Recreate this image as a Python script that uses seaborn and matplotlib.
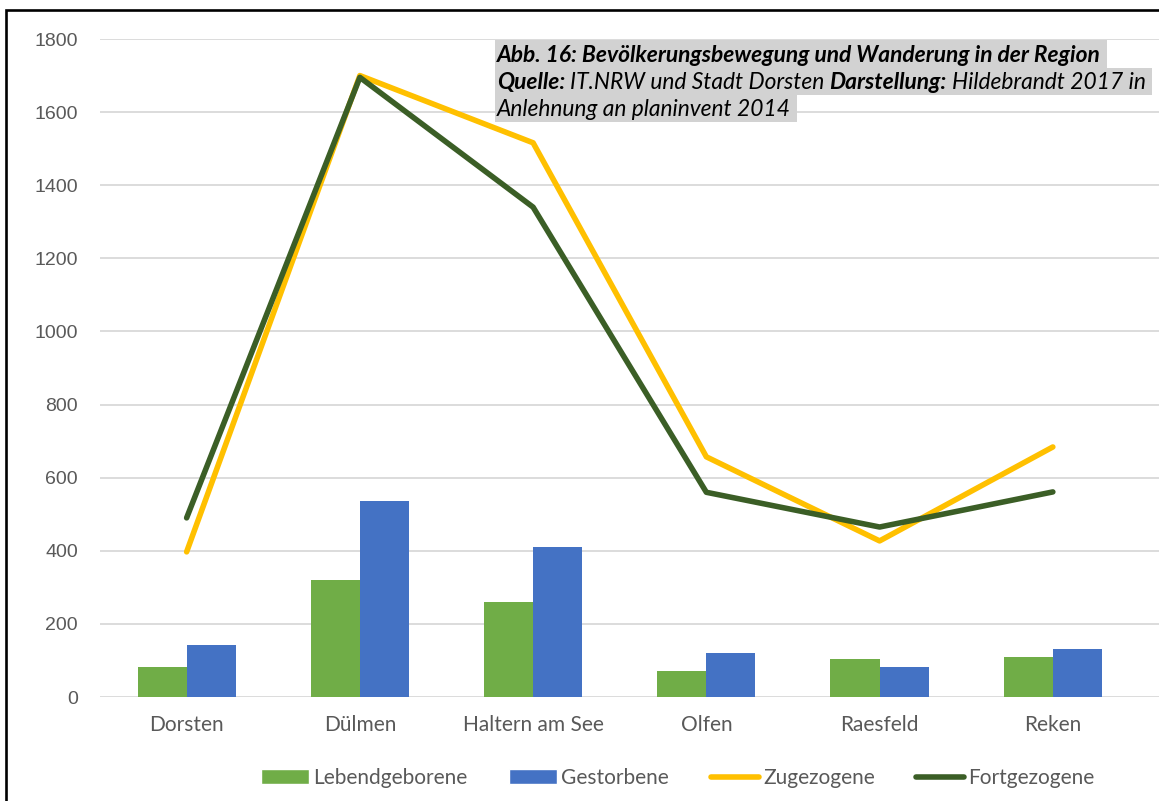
import numpy as np
import pandas as pd
import matplotlib
matplotlib.use("Agg")
import matplotlib.pyplot as plt
from matplotlib.patches import Rectangle, Patch
from matplotlib.lines import Line2D
import seaborn as sns

# --- data ---
orte = ["Dorsten", "Dülmen", "Haltern am See", "Olfen", "Raesfeld", "Reken"]
lebendgeborene = [82, 320, 260, 70, 104, 109]
gestorbene = [143, 535, 410, 120, 82, 132]
zugezogene = [397, 1700, 1516, 657, 427, 684]
fortgezogene = [490, 1695, 1340, 560, 465, 561]
y_ticks = [0, 200, 400, 600, 800, 1000, 1200, 1400, 1600, 1800]

titel_zeilen = [
    [("Abb. 16: Bevölkerungsbewegung und Wanderung in der Region", "bold")],
    [("Quelle:", "bold"), ("IT.NRW und Stadt Dorsten", "normal"),
     ("Darstellung:", "bold"), ("Hildebrandt 2017 in", "normal")],
    [("Anlehnung an planinvent 2014", "normal")],
]

c_green = "#70ad47"
c_blue = "#4472c4"
c_yellow = "#ffc000"
c_dark = "#3b5e26"
c_text = "#595959"

W, H = 1159, 801
sns.set_style("white")
fig = plt.figure(figsize=(W / 100, H / 100), dpi=100)


def fx(px):
    return px / W


def fy(py):
    return 1 - py / H


ax = fig.add_axes([fx(100), fy(697), fx(1159) - fx(100), fy(39) - fy(697)])

bars = pd.DataFrame({
    "Ort": orte * 2,
    "Wert": lebendgeborene + gestorbene,
    "Reihe": ["Lebendgeborene"] * len(orte) + ["Gestorbene"] * len(orte),
})
sns.barplot(data=bars, x="Ort", y="Wert", hue="Reihe", order=orte,
            palette=[c_green, c_blue], width=0.567, gap=0, saturation=1,
            errorbar=None, legend=False, ax=ax, zorder=2, linewidth=0)

pos = np.arange(len(orte))
sns.lineplot(x=pos, y=zugezogene, color=c_yellow, linewidth=4, ax=ax,
             zorder=3, solid_capstyle="round")
sns.lineplot(x=pos, y=fortgezogene, color=c_dark, linewidth=4, ax=ax,
             zorder=4, solid_capstyle="round")

ax.set_xlim(-0.5, (1159 - 188) / 173)
ax.set_ylim(0, 1800)
ax.set_yticks(y_ticks)
ax.set_xticks(pos)
ax.set_xticklabels(orte, fontfamily="Lato", fontsize=15, color=c_text)
ax.set_yticklabels([str(v) for v in y_ticks], fontfamily="Liberation Sans",
                   fontsize=14, color=c_text)
ax.tick_params(axis="both", length=0)
ax.tick_params(axis="y", pad=16)
ax.tick_params(axis="x", pad=13)
ax.set_xlabel("")
ax.set_ylabel("")
for s in ax.spines.values():
    s.set_visible(False)
ax.grid(axis="y", color="#d9d9d9", linewidth=1.3, zorder=0)
ax.set_axisbelow(True)

# legend
handles = [
    Patch(facecolor=c_green, label="Lebendgeborene"),
    Patch(facecolor=c_blue, label="Gestorbene"),
    Line2D([], [], color=c_yellow, linewidth=4, label="Zugezogene"),
    Line2D([], [], color=c_dark, linewidth=4, label="Fortgezogene"),
]
fig.legend(handles=handles, loc="center", bbox_to_anchor=(fx(678), fy(778)),
           ncol=4, frameon=False, prop={"family": "Lato", "size": 15},
           labelcolor=c_text, handlelength=2.3, handletextpad=0.2,
           columnspacing=2.0)

# outer frame of the cropped page
fig.patches.append(Rectangle((fx(6), -0.1), 2, fy(9.5) + 0.1, fill=False,
                             edgecolor="black", linewidth=1.9,
                             transform=fig.transFigure, figure=fig))

# caption with grey highlight, piece by piece
fig.canvas.draw()
renderer = fig.canvas.get_renderer()
baselines = [62, 89, 116]
boxes = [(40, 68), (68, 95), (95, 122)]
for zeile, base, (top, bot) in zip(titel_zeilen, baselines, boxes):
    x = 497
    for txt, weight in zeile:
        t = fig.text(fx(x), fy(base), txt, fontfamily="Lato", fontsize=16.4,
                     fontstyle="italic", fontweight=weight, color="black",
                     va="baseline", ha="left", zorder=5)
        ext = t.get_window_extent(renderer)
        x = ext.x1 + 5
    fig.patches.append(Rectangle((fx(495), fy(bot)), fx(x + 1) - fx(495),
                                 fy(top) - fy(bot), facecolor="#d2d2d2",
                                 edgecolor="none", transform=fig.transFigure,
                                 figure=fig, zorder=1))

fig.savefig("out.png", dpi=100)
